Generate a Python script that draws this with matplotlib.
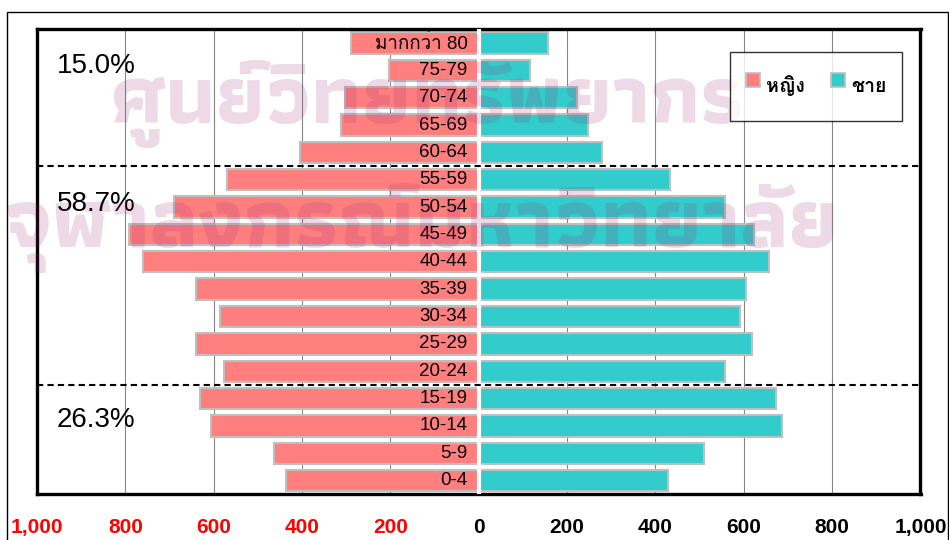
import matplotlib
matplotlib.use("Agg")
import matplotlib.pyplot as plt
from matplotlib import font_manager as fm
from matplotlib.ft2font import FT2Font
from matplotlib.lines import Line2D
from matplotlib.patches import Rectangle
import numpy as np

# ---------------- data ----------------
age_groups = ["0-4", "5-9", "10-14", "15-19", "20-24", "25-29", "30-34",
              "35-39", "40-44", "45-49", "50-54", "55-59", "60-64",
              "65-69", "70-74", "75-79", "มากกว่า 80"]
female = [436, 463, 605, 632, 576, 639, 585, 639, 761, 792, 691, 569, 405,
          311, 302, 204, 290]
male = [428, 510, 686, 674, 557, 619, 591, 604, 658, 623, 557, 434, 278,
        247, 222, 117, 157]
group_shares = ["26.3%", "58.7%", "15.0%"]
group_label_pos = [2.22, 10.1, 15.17]
group_breaks = [3.5, 11.5]
tick_values = [-1000, -800, -600, -400, -200, 0, 200, 400, 600, 800, 1000]
tick_labels = ["1,000", "800", "600", "400", "200", "0", "200", "400", "600",
               "800", "1,000"]
legend_labels = ["หญิง", "ชาย"]
watermark_lines = ["ศูนย์วิทยทรัพยากร", "จุฬาลงกรณ์มหาวิทยาลัย"]

# ---------------- fonts ----------------
thai_families = []
for fe in fm.fontManager.ttflist:
    try:
        cmap = FT2Font(fe.fname).get_charmap()
        if 0x0E01 in cmap and 0x0E2B in cmap and 0x0E0D in cmap:
            if fe.name not in thai_families:
                thai_families.append(fe.name)
    except Exception:
        pass
preferred = [f for f in ["Loma", "Garuda", "Umpush", "Waree"] if f in thai_families]
thai = (preferred or thai_families or ["DejaVu Sans"])[0]
wm_pref = [f for f in ["Athiti", "IBM Plex Sans Thai Looped", "Sarabun", "Loma"]
           if f in thai_families]
wm_font = (wm_pref or [thai])[0]

base = ["Liberation Sans", thai, "DejaVu Sans"]
plt.rcParams["font.family"] = base

PINK = "#FF7F7F"
CYAN = "#33CCCC"
EDGE = "#BFBFBF"

W, H = 949, 540
fig = plt.figure(figsize=(W / 100, H / 100), dpi=100)
ax = fig.add_axes([37 / W, 45.7 / H, (920.5 - 37) / W, (494.3 - 29.3) / H])

# outer frame
fig.patches.append(Rectangle((7.3 / W, -0.05), (948 - 7.3) / W, (540 - 11.7) / H + 0.05,
                             transform=fig.transFigure, fill=False,
                             edgecolor="black", linewidth=1.0))

y = np.arange(len(age_groups))
ax.barh(y, [-v for v in female], height=0.78, color=PINK, edgecolor=EDGE,
        linewidth=1.5, zorder=2)
ax.barh(y, male, height=0.78, color=CYAN, edgecolor=EDGE, linewidth=1.5,
        zorder=2)

ax.set_xlim(-1000, 1000)
ax.set_ylim(-0.5, len(age_groups) - 0.5)

for v in tick_values:
    if v not in (0, -1000, 1000):
        ax.axvline(v, color="#868686", linewidth=0.8, zorder=1)
ax.axvline(0, color="white", linewidth=3, zorder=4)

for b in group_breaks:
    ax.axhline(b, color="black", linewidth=1.5, linestyle=(0, (3, 2)), zorder=5)

for yi, lab in zip(y, age_groups):
    ax.text(-25, yi, lab, ha="right", va="center", fontsize=13.5, zorder=6)

for pos, s in zip(group_label_pos, group_shares):
    ax.text(-955, pos, s, ha="left", va="center", fontsize=20, zorder=6)

ax.set_yticks([])
ax.set_xticks(tick_values)
ax.set_xticklabels(tick_labels, fontsize=15, fontweight="bold")
for lab, v in zip(ax.get_xticklabels(), tick_values):
    lab.set_color("red" if v < 0 else "black")
ax.tick_params(axis="x", length=0, pad=17)
for sp in ax.spines.values():
    sp.set_linewidth(2.4)
    sp.set_color("black")

# legend
handles = [Line2D([], [], linestyle="none", marker="s", markersize=10,
                  markerfacecolor=PINK, markeredgecolor=EDGE, markeredgewidth=1.2),
           Line2D([], [], linestyle="none", marker="s", markersize=10,
                  markerfacecolor=CYAN, markeredgecolor=EDGE, markeredgewidth=1.2)]
leg = fig.legend(handles, legend_labels, loc="center",
                 bbox_to_anchor=(816 / W, 1 - 86.5 / H), ncol=2,
                 frameon=True, fancybox=False, shadow=False,
                 prop={"size": 14, "weight": "bold"},
                 handlelength=0.75, handleheight=2.6, handletextpad=0.3,
                 columnspacing=1.3, borderpad=0.8, borderaxespad=0)
leg.get_frame().set_edgecolor("black")
leg.get_frame().set_linewidth(1.0)
leg.set_zorder(20)

# faint watermark (scanned-page stamp)
wm_targets = [(427, 123, 634), (422, 247, 836)]
renderer = fig.canvas.get_renderer()
for text, (cx, base_y, width) in zip(watermark_lines, wm_targets):
    t = fig.text(cx / W, 1 - base_y / H, text, ha="center", va="baseline",
                 fontsize=60, fontweight="bold", family=[wm_font],
                 color=(0.59, 0.16, 0.43), alpha=0.17, zorder=10)
    ext = t.get_window_extent(renderer=renderer)
    t.set_fontsize(60 * width / ext.width)

fig.savefig("out.png", dpi=100)
